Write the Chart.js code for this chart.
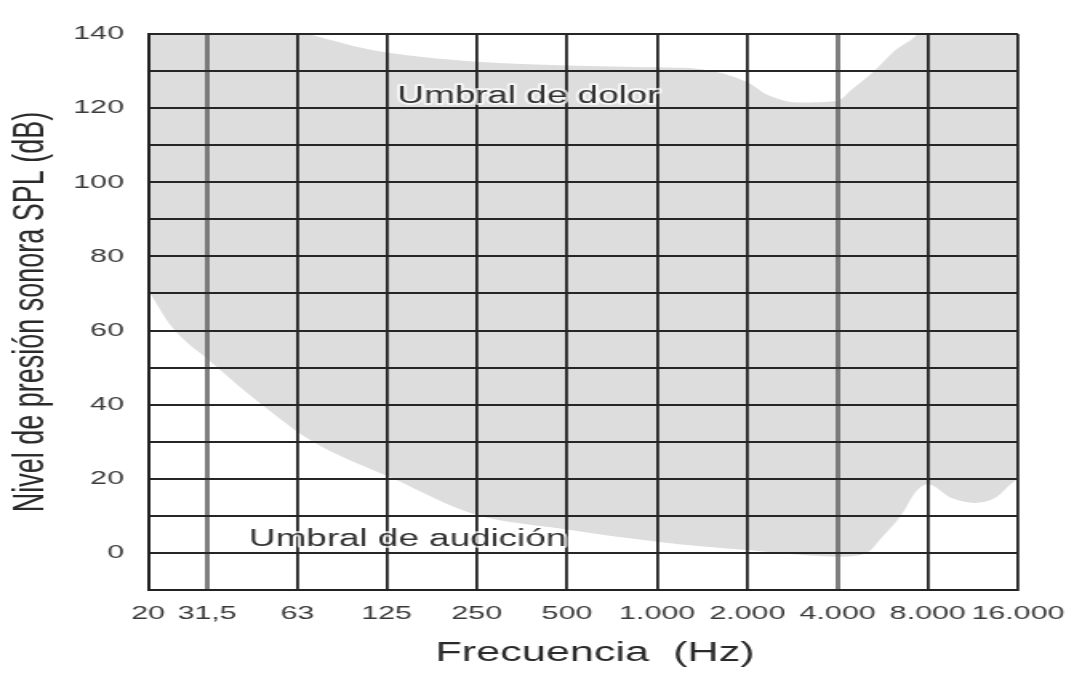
<!DOCTYPE html>
<html>
<head>
<meta charset="utf-8">
<script src="https://cdn.jsdelivr.net/npm/chart.js@4/dist/chart.umd.min.js"></script>
<style>
  html, body { margin: 0; padding: 0; background: #fff; }
  #wrap { width: 1074px; height: 675px; }
</style>
</head>
<body>
<div id="wrap">
  <!-- the picture is stretched sideways, so the canvas is drawn narrow and widened by css -->
  <canvas id="chart" width="671" height="675" style="width:1074px;height:675px"></canvas>
</div>
<script>
let freqTicks = [20, 31.5, 63, 125, 250, 500, 1000, 2000, 4000, 8000, 16000];
let freqLabels = ['20', '31,5', '63', '125', '250', '500', '1.000', '2.000', '4.000', '8.000', '16.000'];
let dbLabels = [0, 20, 40, 60, 80, 100, 120, 140];

// Umbral de audición (lower edge of the grey band)
let hearingFreq = [20, 24, 33, 48, 71, 132, 244, 480, 1000, 1400, 2000, 3000, 4000, 5000, 5600, 6500, 7300, 8000, 9600, 11500, 13400, 15300, 16000];
let hearingDb = [71, 61, 51, 40, 30, 20, 10.5, 6.5, 3, 1.8, 0.8, -0.5, -1, 0, 4, 10, 16.5, 18.5, 14.8, 13.5, 14.8, 18.9, 20];

// Umbral de dolor (upper edge)
let painFreq = [20, 66, 80, 100, 125, 250, 500, 1000, 1400, 2000, 2350, 3000, 4000, 4460, 5300, 6200, 7000, 7500, 16000];
let painDb = [140, 140, 138.5, 136.5, 135, 132.5, 131.5, 131, 130.5, 127, 123.5, 121.5, 122, 125, 130, 135.5, 138.3, 140, 140];

let labelTexts = ['Umbral de dolor', 'Umbral de audición'];
let labelFreq = [372, 147];
let labelDb = [123, 3.5];

let fontFamily = "'Liberation Sans', Arial, sans-serif";

function toPoints(xs, ys) {
  return xs.map((x, i) => ({ x: x, y: ys[i] }));
}

// Draw the two text labels on top
let textLabels = {
  id: 'textLabels',
  afterDraw(chart) {
    let ctx = chart.ctx;
    let x = chart.scales.x;
    let y = chart.scales.y;
    ctx.save();
    ctx.font = '23px ' + fontFamily;
    ctx.textAlign = 'center';
    ctx.textBaseline = 'middle';
    ctx.lineJoin = 'round';
    for (let i = 0; i < labelTexts.length; i++) {
      let px = x.getPixelForValue(labelFreq[i]);
      let py = y.getPixelForValue(labelDb[i]);
      ctx.strokeStyle = 'rgba(255,255,255,0.7)';
      ctx.lineWidth = 4;
      ctx.strokeText(labelTexts[i], px, py);
      ctx.fillStyle = '#333';
      ctx.fillText(labelTexts[i], px, py);
    }
    ctx.restore();
  }
};

new Chart(document.getElementById('chart'), {
  type: 'line',
  data: {
    datasets: [
      {
        label: 'Umbral de audición',
        data: toPoints(hearingFreq, hearingDb),
        borderWidth: 0,
        borderColor: 'rgba(0,0,0,0)',
        backgroundColor: '#dddddd',
        pointRadius: 0,
        cubicInterpolationMode: 'monotone',
        fill: '+1'
      },
      {
        label: 'Umbral de dolor',
        data: toPoints(painFreq, painDb),
        borderWidth: 0,
        borderColor: 'rgba(0,0,0,0)',
        pointRadius: 0,
        cubicInterpolationMode: 'monotone',
        fill: false
      }
    ]
  },
  options: {
    responsive: false,
    devicePixelRatio: 1,
    animation: false,
    layout: { padding: { top: 34, right: 35, bottom: 0, left: 0 } },
    plugins: {
      legend: { display: false },
      tooltip: { enabled: false }
    },
    scales: {
      x: {
        type: 'logarithmic',
        min: 20,
        max: 16000,
        afterBuildTicks: (scale) => {
          scale.ticks = freqTicks.map(v => ({ value: v }));
        },
        afterFit: (scale) => {
          scale.height = 85;
          scale.paddingLeft = 0;
          scale.paddingRight = 0;
        },
        ticks: {
          autoSkip: false,
          maxRotation: 0,
          padding: 12,
          color: '#3a3a3a',
          font: { family: fontFamily, size: 19 },
          callback: (value) => {
            let i = freqTicks.indexOf(value);
            return i >= 0 ? freqLabels[i] : '';
          }
        },
        grid: {
          z: 1,
          drawTicks: false,
          color: (ctx) => (ctx.tick && (ctx.tick.value === 31.5 || ctx.tick.value === 4000)) ? 'rgba(105,105,105,0.85)' : '#222',
          lineWidth: (ctx) => (ctx.tick && (ctx.tick.value === 31.5 || ctx.tick.value === 4000)) ? 3 : 1.8
        },
        border: { z: 2, color: '#222', width: 2 },
        title: {
          display: true,
          text: '\u00a0\u00a0Frecuencia  (Hz)',
          color: '#2a2a2a',
          font: { family: fontFamily, size: 27 },
          padding: { top: 0, bottom: 5 }
        }
      },
      y: {
        min: -10,
        max: 140,
        afterFit: (scale) => { scale.width = 92.5; },
        ticks: {
          stepSize: 10,
          padding: 15,
          color: '#3a3a3a',
          font: { family: fontFamily, size: 19 },
          callback: (value) => dbLabels.includes(value) ? String(value) : ''
        },
        grid: {
          z: 1,
          drawTicks: false,
          color: '#262626',
          lineWidth: 2
        },
        border: { z: 2, color: '#222', width: 2 },
        title: {
          display: true,
          text: 'Nivel de presión sonora SPL (dB)',
          color: '#2a2a2a',
          font: { family: fontFamily, size: 27 },
          padding: { top: 3, bottom: 0 }
        }
      }
    }
  },
  plugins: [textLabels]
});
</script>
</body>
</html>
